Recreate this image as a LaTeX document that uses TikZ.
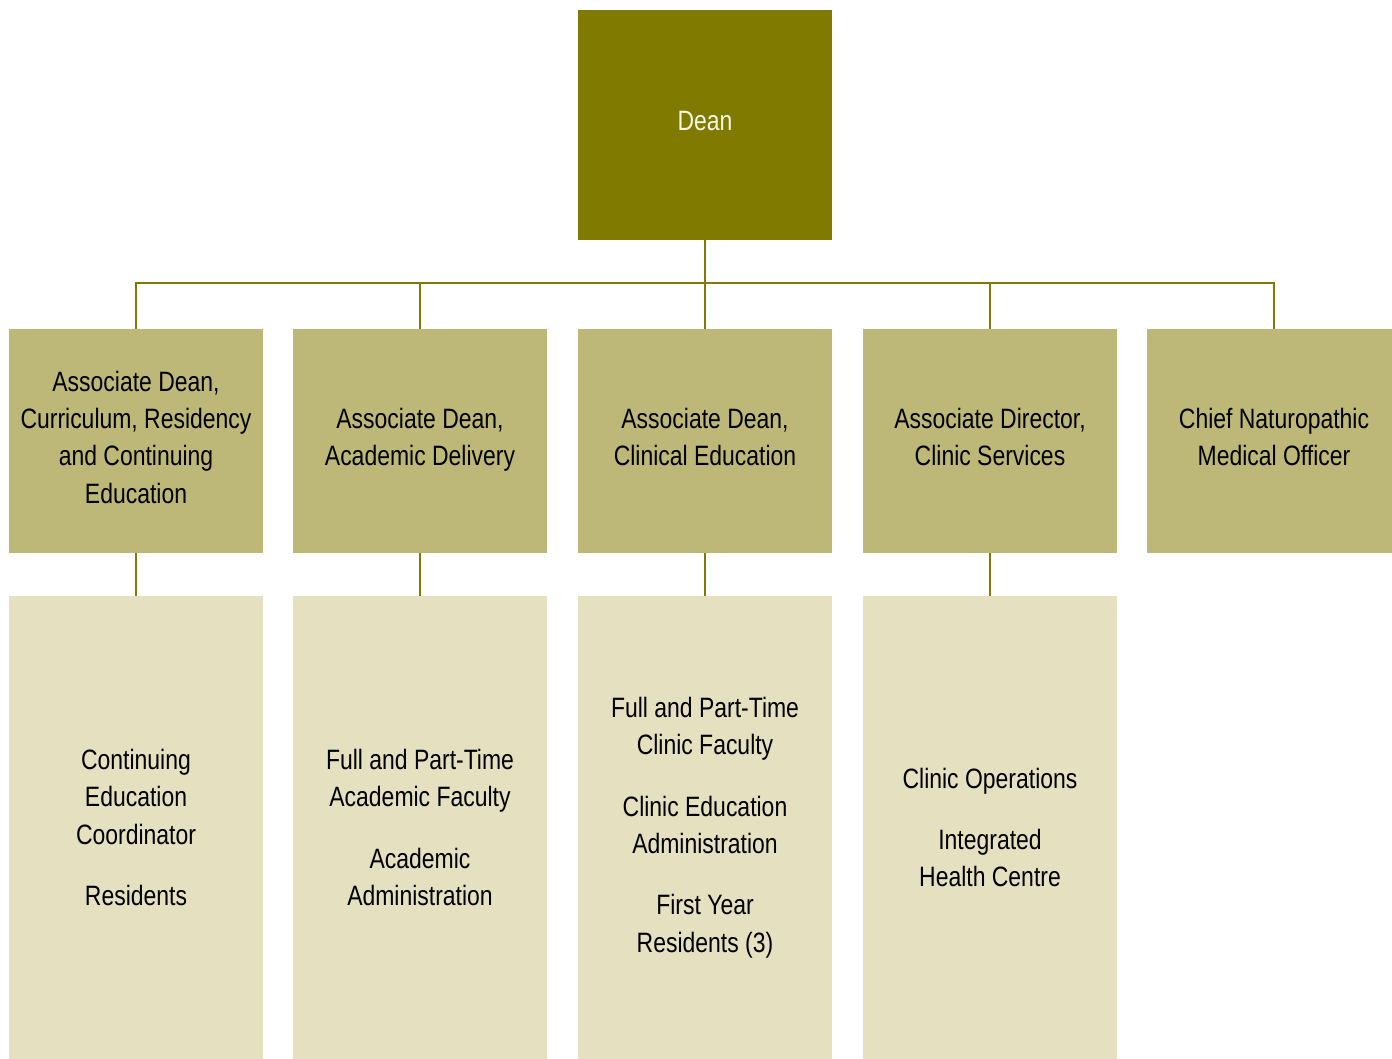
\documentclass[tikz,border=0pt]{standalone}
\usepackage{fontspec}
\setmainfont[FakeStretch=0.82]{Liberation Sans}
\definecolor{deanc}{RGB}{128,122,0}
\definecolor{midc}{RGB}{189,184,119}
\definecolor{lightc}{RGB}{229,224,192}
\definecolor{deantext}{RGB}{245,245,230}
\begin{document}
\begin{tikzpicture}[x=1pt,y=-1pt,
  box/.style={rectangle,inner sep=0pt,minimum width=254pt,align=center,font=\fontsize{28}{37.3}\selectfont},
  topbox/.style={box,fill=deanc,text=deantext,minimum height=230pt,text depth=8pt},
  midbox/.style={box,fill=midc,text=black,minimum height=224pt,text depth=8pt},
  lowbox/.style={box,fill=lightc,text=black,minimum height=463pt},
  conn/.style={draw=deanc,line width=2.2pt}]
\useasboundingbox (0,0) rectangle (1392,1059);
\clip (0,0) rectangle (1392,1059);
\node[topbox] (dean) at (705,125) {Dean};
\node[midbox] (a1) at (136,441) {Associate Dean,\\Curriculum, Residency\\and Continuing\\Education};
\node[midbox] (a2) at (420,441) {Associate Dean,\\Academic Delivery};
\node[midbox] (a3) at (705,441) {Associate Dean,\\Clinical Education};
\node[midbox] (a4) at (990,441) {Associate Director,\\Clinic Services};
\node[midbox] (a5) at (1274,441) {Chief Naturopathic\\Medical Officer};
\node[lowbox] (b1) at (136,827.5) {Continuing\\Education\\Coordinator\\[24pt]Residents};
\node[lowbox] (b2) at (420,827.5) {Full and Part-Time\\Academic Faculty\\[24pt]Academic\\Administration};
\node[lowbox] (b3) at (705,827.5) {Full and Part-Time\\Clinic Faculty\\[24pt]Clinic Education\\Administration\\[24pt]First Year\\Residents (3)};
\node[lowbox] (b4) at (990,827.5) {Clinic Operations\\[24pt]Integrated\\Health Centre};
\coordinate (bus) at (705,283);
\draw[conn] (dean.south) -- (dean.south |- bus);
\draw[conn] (a1.north) -- (a1.north |- bus) -- (a5.north |- bus) -- (a5.north);
\draw[conn] (a2.north) -- (a2.north |- bus);
\draw[conn] (a3.north) -- (a3.north |- bus);
\draw[conn] (a4.north) -- (a4.north |- bus);
\draw[conn] (a1.south) -- (b1.north);
\draw[conn] (a2.south) -- (b2.north);
\draw[conn] (a3.south) -- (b3.north);
\draw[conn] (a4.south) -- (b4.north);
\end{tikzpicture}
\end{document}
